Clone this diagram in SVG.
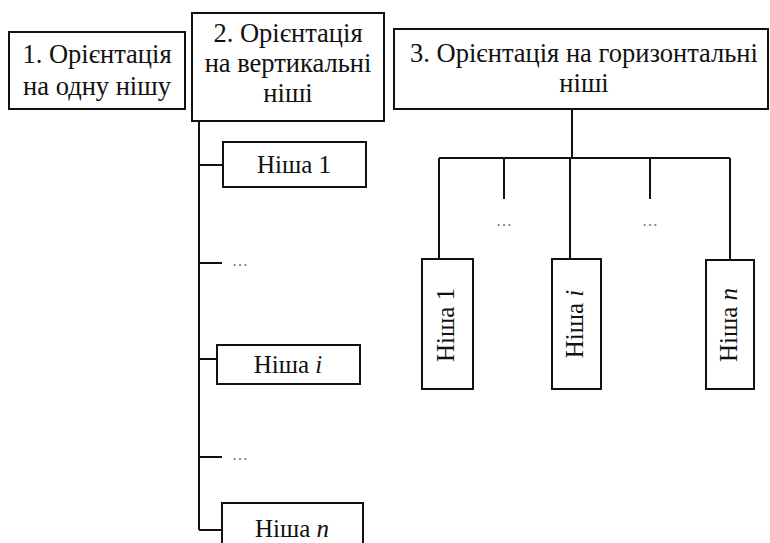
<svg xmlns="http://www.w3.org/2000/svg" width="770" height="543" viewBox="0 0 770 543">
  <style>
    .box { fill: #fff; stroke: #111; stroke-width: 2; }
    .wire { fill: none; stroke: #111; stroke-width: 2; }
    .t { font-family: "Liberation Serif", "Times New Roman", serif; font-size: 26.5px; fill: #111; text-anchor: middle; }
    .n { font-size: 25px; }
    .dots { font-family: "Liberation Serif", serif; font-size: 16px; fill: #777; text-anchor: middle; }
  </style>
  <rect width="770" height="543" fill="#fff"/>

  <g id="connectors">
    <!-- vertical niches branch -->
    <path class="wire" d="M199 121 V530 M199 165 H223 M199 263 H222 M199 359 H217 M199 457 H222 M199 530 H222"/>
    <!-- horizontal niches branch -->
    <path class="wire" d="M572 109 V158 M439 158 H730 M439 158 V259 M570 158 V259 M730 158 V259 M504 158 V199 M650 158 V199"/>
    <text class="dots" x="240" y="266">…</text>
    <text class="dots" x="240" y="460">…</text>
    <text class="dots" x="504" y="226">…</text>
    <text class="dots" x="650" y="226">…</text>
  </g>

  <g id="single-niche">
    <rect class="box" x="9" y="32" width="176" height="77"/>
    <text class="t" x="97" y="63">1. Орієнтація</text>
    <text class="t" x="97" y="95">на одну нішу</text>
  </g>

  <g id="vertical-niches">
    <rect class="box" x="192" y="13" width="192" height="108"/>
    <text class="t" x="288" y="42">2. Орієнтація</text>
    <text class="t" x="288" y="72">на вертикальні</text>
    <text class="t" x="288" y="102">ніші</text>
  </g>

  <g id="horizontal-niches">
    <rect class="box" x="394" y="29" width="374" height="80"/>
    <text class="t" x="584" y="62">3. Орієнтація на горизонтальні</text>
    <text class="t" x="584" y="92">ніші</text>
  </g>

  <g id="v-niche-1">
    <rect class="box" x="223" y="142" width="143" height="45"/>
    <text class="t n" x="294" y="173">Ніша 1</text>
  </g>
  <g id="v-niche-i">
    <rect class="box" x="217" y="345" width="143" height="39"/>
    <text class="t n" x="288" y="373">Ніша <tspan font-style="italic">i</tspan></text>
  </g>
  <g id="v-niche-n">
    <rect class="box" x="222" y="503" width="141" height="45"/>
    <text class="t n" x="292" y="537">Ніша <tspan font-style="italic">n</tspan></text>
  </g>

  <g id="h-niche-1">
    <rect class="box" x="422" y="259" width="51" height="130"/>
    <text class="t n" transform="translate(454 325) rotate(-90)">Ніша 1</text>
  </g>
  <g id="h-niche-i">
    <rect class="box" x="552" y="259" width="49" height="130"/>
    <text class="t n" transform="translate(583 324) rotate(-90)">Ніша <tspan font-style="italic">i</tspan></text>
  </g>
  <g id="h-niche-n">
    <rect class="box" x="706" y="260" width="48" height="129"/>
    <text class="t n" transform="translate(737 325) rotate(-90)">Ніша <tspan font-style="italic">n</tspan></text>
  </g>
</svg>
